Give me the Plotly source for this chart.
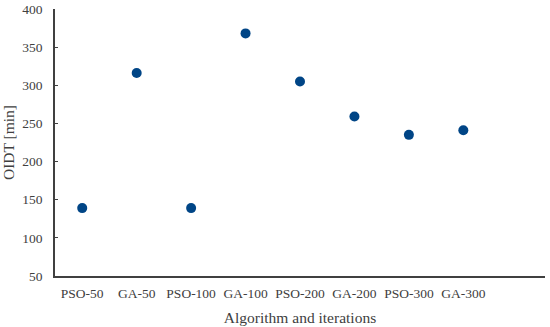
import plotly.graph_objects as go

categories = ["PSO-50", "GA-50", "PSO-100", "GA-100", "PSO-200", "GA-200", "PSO-300", "GA-300"]
oidt_min = [139, 316, 139, 368, 305, 259, 235, 241]
y_ticks = [50, 100, 150, 200, 250, 300, 350, 400]

font_family = "Liberation Serif, DejaVu Serif, serif"

fig = go.Figure()
fig.add_trace(go.Scatter(
    x=list(range(len(categories))),
    y=oidt_min,
    mode="markers",
    marker=dict(color="#004586", size=10),
    showlegend=False,
))

fig.update_layout(
    width=550, height=327,
    margin=dict(l=55, r=5, t=9, b=51),
    paper_bgcolor="white", plot_bgcolor="white",
    font=dict(family=font_family, size=13, color="#404040"),
    xaxis=dict(
        tickmode="array",
        tickvals=list(range(len(categories))),
        ticktext=categories,
        range=[-0.5, len(categories) + 0.5],
        showgrid=False, zeroline=False,
        showline=True, linecolor="#404040", linewidth=1.5,
        ticks="", ticklen=0,
        ticklabelstandoff=4,
        automargin=False,
        title=dict(text="Algorithm and iterations", standoff=12,
                   font=dict(family=font_family, size=15.5, color="#404040")),
        tickfont=dict(family=font_family, size=13.5, color="#404040"),
    ),
    yaxis=dict(
        range=[50, 400],
        tickmode="array", tickvals=y_ticks,
        showgrid=False, zeroline=False,
        showline=True, linecolor="#404040", linewidth=1.5,
        ticks="inside", ticklen=3, tickcolor="#404040", tickwidth=1,
        ticklabelstandoff=8,
        automargin=False,
        title=dict(text="OIDT [min]", standoff=4,
                   font=dict(family=font_family, size=15.5, color="#404040")),
        tickfont=dict(family=font_family, size=13.5, color="#404040"),
    ),
)

fig.write_html("out.html", config={"displayModeBar": False},
               post_script="document.body.style.margin='0';")
